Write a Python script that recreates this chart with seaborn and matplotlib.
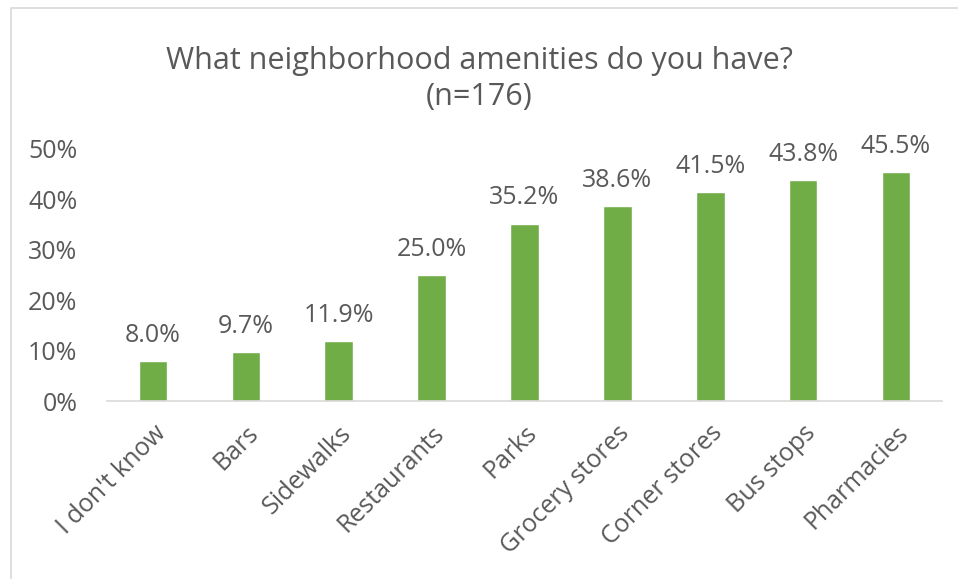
import matplotlib
matplotlib.use("Agg")
import matplotlib.pyplot as plt
import seaborn as sns
import pandas as pd
from matplotlib.patches import Rectangle
from matplotlib.ticker import PercentFormatter

# Data
amenities = ["I don't know", "Bars", "Sidewalks", "Restaurants", "Parks",
             "Grocery stores", "Corner stores", "Bus stops", "Pharmacies"]
shares = [8.0, 9.7, 11.9, 25.0, 35.2, 38.6, 41.5, 43.8, 45.5]

dat = pd.DataFrame({"Amenity": amenities, "Share": shares})

sns.set_style("white")
plt.rcParams["font.family"] = ["Open Sans", "DejaVu Sans"]

TXT = "#595959"
fig = plt.figure(figsize=(9.58, 5.79), dpi=100)
ax = fig.add_axes([0.1113, 0.3074, 0.8724, 0.4353])

sns.barplot(data=dat, x="Amenity", y="Share", color="#70ad47",
            width=0.31, saturation=1, ax=ax)

# Value labels above bars
for i, v in enumerate(shares):
    ax.text(i, v + 2.6, f"{v:.1f}%", ha="center", va="bottom",
            fontsize=18, color=TXT, clip_on=False)

ax.set_ylim(0, 50)
ax.set_xlim(-0.5, len(amenities) - 0.5)
ax.set_yticks(range(0, 51, 10))
ax.yaxis.set_major_formatter(PercentFormatter(decimals=0))
ax.tick_params(axis="y", labelsize=18, labelcolor=TXT, length=0, pad=21)
ax.tick_params(axis="x", labelsize=18, labelcolor=TXT, length=0, pad=14)
plt.setp(ax.get_xticklabels(), rotation=45, ha="right", rotation_mode="anchor")
ax.set_xlabel("")
ax.set_ylabel("")

for side in ["top", "right", "left"]:
    ax.spines[side].set_visible(False)
ax.spines["bottom"].set_color("#d9d9d9")
ax.spines["bottom"].set_linewidth(1.2)

fig.text(0.5, 0.863, "What neighborhood amenities do you have?\n(n=176)",
         ha="center", va="center", fontsize=22, color=TXT, linespacing=1.25)

# Light chart frame
fig.patches.append(Rectangle((11 / 958, -0.05), 1.0, 1 - 8 / 579 + 0.05,
                             transform=fig.transFigure, fill=False,
                             edgecolor="#d9d9d9", linewidth=1.2))

plt.savefig("out.png", dpi=100)
